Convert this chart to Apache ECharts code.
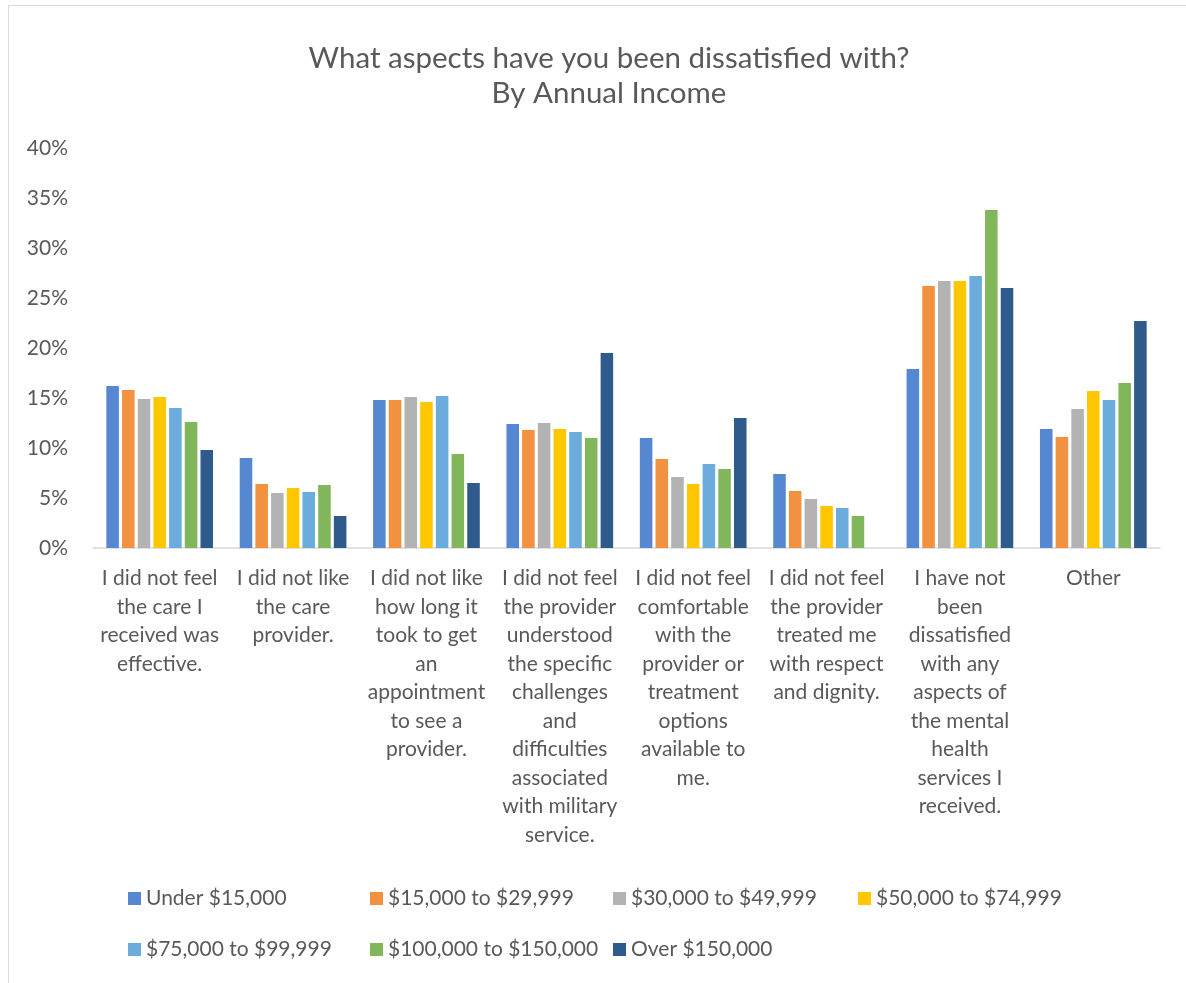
<!DOCTYPE html>
<html>
<head>
<meta charset="utf-8">
<script src="https://cdn.jsdelivr.net/npm/echarts@6/dist/echarts.min.js"></script>
<style>
html,body{margin:0;padding:0;background:#fff;}
#chart{width:1186px;height:983px;}
</style>
</head>
<body>
<div id="chart"></div>
<script>
const categories = [
  "I did not feel\nthe care I\nreceived was\neffective.",
  "I did not like\nthe care\nprovider.",
  "I did not like\nhow long it\ntook to get\nan\nappointment\nto see a\nprovider.",
  "I did not feel\nthe provider\nunderstood\nthe specific\nchallenges\nand\ndifficulties\nassociated\nwith military\nservice.",
  "I did not feel\ncomfortable\nwith the\nprovider or\ntreatment\noptions\navailable to\nme.",
  "I did not feel\nthe provider\ntreated me\nwith respect\nand dignity.",
  "I have not\nbeen\ndissatisfied\nwith any\naspects of\nthe mental\nhealth\nservices I\nreceived.",
  "Other"
];
const seriesNames = ["Under $15,000","$15,000 to $29,999","$30,000 to $49,999","$50,000 to $74,999","$75,000 to $99,999","$100,000 to $150,000","Over $150,000"];
const under15k   = [16.2, 9.0, 14.8, 12.4, 11.0, 7.4, 17.9, 11.9];
const k15to30    = [15.8, 6.4, 14.8, 11.8, 8.9, 5.7, 26.2, 11.1];
const k30to50    = [14.9, 5.5, 15.1, 12.5, 7.1, 4.9, 26.7, 13.9];
const k50to75    = [15.1, 6.0, 14.6, 11.9, 6.4, 4.2, 26.7, 15.7];
const k75to100   = [14.0, 5.6, 15.2, 11.6, 8.4, 4.0, 27.2, 14.8];
const k100to150  = [12.6, 6.3, 9.4, 11.0, 7.9, 3.2, 33.8, 16.5];
const over150k   = [9.8, 3.2, 6.5, 19.5, 13.0, 0, 26.0, 22.7];
const yTicks = {min: 0, max: 40, interval: 5};

const colors = ["#5588D0","#F2913F","#B3B3B3","#FFC700","#6CACDC","#82B65A","#2E5A8C"];
const allData = [under15k,k15to30,k30to50,k50to75,k75to100,k100to150,over150k];
const FONT = "Lato";
const TXT = "#595959";

const legendPos = [[128,888],[370,888],[613,888],[858,888],[128,939],[370,939],[613,939]];

const chart = echarts.init(document.getElementById('chart'));
chart.setOption({
  animation: false,
  backgroundColor: '#fff',
  textStyle: {fontFamily: FONT},
  title: {
    text: "What aspects have you been dissatisfied with?\nBy Annual Income",
    left: 604, top: 36, textAlign: 'center',
    textStyle: {fontFamily: FONT, fontSize: 29.5, fontWeight: 'normal', color: TXT, lineHeight: 35}
  },
  graphic: [{
    type: 'rect', shape: {x: 8.5, y: 5.5, width: 1400, height: 1400},
    style: {fill: 'none', stroke: '#d9d9d9', lineWidth: 1}, silent: true
  }],
  legend: seriesNames.map((n, i) => ({
    data: [n], left: legendPos[i][0], top: legendPos[i][1], padding: 0,
    itemWidth: 13, itemHeight: 13, itemGap: 5, icon: 'rect',
    textStyle: {fontFamily: FONT, fontSize: 21, color: TXT, padding: [0,0,0,0]}
  })),
  grid: {left: 93, right: 26, top: 148, bottom: 435, containLabel: false},
  xAxis: {
    type: 'category', data: categories,
    axisLine: {lineStyle: {color: '#d9d9d9', width: 1.5}},
    axisTick: {show: false},
    axisLabel: {interval: 0, fontFamily: FONT, fontSize: 21, lineHeight: 28.5, color: TXT, margin: 16, align: 'center'}
  },
  yAxis: {
    type: 'value', min: yTicks.min, max: yTicks.max, interval: yTicks.interval,
    splitLine: {show: false}, axisLine: {show: false}, axisTick: {show: false},
    axisLabel: {formatter: v => v + '%', fontFamily: FONT, fontSize: 21, color: TXT, margin: 25}
  },
  series: seriesNames.map((n, i) => ({
    name: n, type: 'bar', data: allData[i],
    barCategoryGap: '20%', barGap: '25%',
    itemStyle: {color: colors[i]}
  }))
});
</script>
</body>
</html>
